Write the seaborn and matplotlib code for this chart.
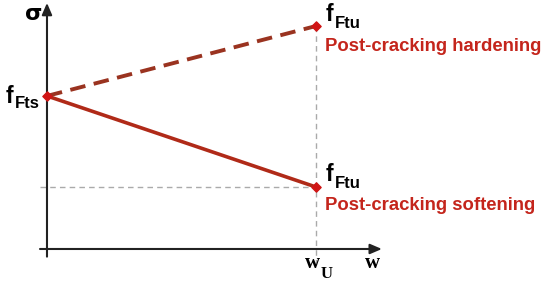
import seaborn as sns
import matplotlib.pyplot as plt

# data: crack opening w (wu = 1) and residual stress (fFts = 1)
w_pts = [0.0, 1.0]
soft = [1.0, 0.405]      # fFts -> fFtu softening
hard = [1.0, 1.457]      # fFts -> fFtu hardening
w_labels = ["w", "U"]

sns.set_style("white")
plt.rcParams["font.family"] = ["Liberation Sans", "DejaVu Sans"]

RED = "#c4251c"
fig = plt.figure(figsize=(5.5, 2.85), dpi=100)
ax = fig.add_axes([0, 0, 1, 1])
ax.set_xlim(-0.1747, 1.870)
ax.set_ylim(-0.2353, 1.627)
ax.axis("off")

# guide lines
ax.plot([w_pts[1], w_pts[1]], [-0.105, 1.43], color="#aaaaaa", lw=1, ls=(0, (4, 3)), zorder=1)
ax.plot([-0.026, w_pts[1]], [soft[1], soft[1]], color="#aaaaaa", lw=1, ls=(0, (4, 3)), zorder=1)

# axes with arrows
arr = dict(arrowstyle="-|>,head_length=0.7,head_width=0.3", color="#222222", lw=1.5, shrinkA=0, shrinkB=0)
ax.annotate("", xy=(0, 1.608), xytext=(0, -0.05), arrowprops=arr)
ax.annotate("", xy=(1.245, 0), xytext=(-0.026, 0), arrowprops=arr)

# curves
sns.lineplot(x=w_pts, y=soft, color="#b02a18", lw=2.6, ax=ax, zorder=3)
sns.lineplot(x=w_pts, y=hard, color="#9a3320", lw=2.8, ax=ax, zorder=3)
ax.lines[-1].set_linestyle((0, (4, 2.2)))
ax.scatter([w_pts[0], w_pts[1], w_pts[1]], [soft[0], soft[1], hard[1]], marker="D", s=22,
           color="#d01515", zorder=4)

def lab(txt, xy, dx, dy, **kw):
    ax.annotate(txt, xy=xy, xytext=(dx, dy), textcoords="offset points",
                ha="left", va="baseline", **kw)

# fFts
lab("f", (0, soft[0]), -30, -5, fontsize=16.5, fontweight="bold", color="black")
lab("Fts", (0, soft[0]), -23, -8.6, fontsize=12, fontweight="bold", color="black")
# hardening
lab("f", (1, hard[1]), 7.2, 3.5, fontsize=16.5, fontweight="bold", color="black")
lab("Ftu", (1, hard[1]), 13.7, -1.4, fontsize=12, fontweight="bold", color="black")
lab("Post-cracking hardening", (1, hard[1]), 6.5, -18, fontsize=13.3, fontweight="bold", color=RED)
# softening
lab("f", (1, soft[1]), 7.2, 4.5, fontsize=16.5, fontweight="bold", color="black")
lab("Ftu", (1, soft[1]), 13.7, -0.7, fontsize=12, fontweight="bold", color="black")
lab("Post-cracking softening", (1, soft[1]), 6.5, -16.6, fontsize=13.3, fontweight="bold", color=RED)

# axis labels
serif = dict(family="Liberation Serif", fontweight="bold", color="black")
lab(w_labels[0], (1, 0), -8, -13.7, fontsize=15, **serif)
lab(w_labels[1], (1, 0), 3.6, -21, fontsize=12, **serif)
lab("w", (1, 0), 35, -13.7, fontsize=15, **serif)
lab("σ", (0, 0), -16, 165, fontsize=16, family="DejaVu Sans", fontweight="bold", color="black")

fig.savefig("out.png", dpi=100)
